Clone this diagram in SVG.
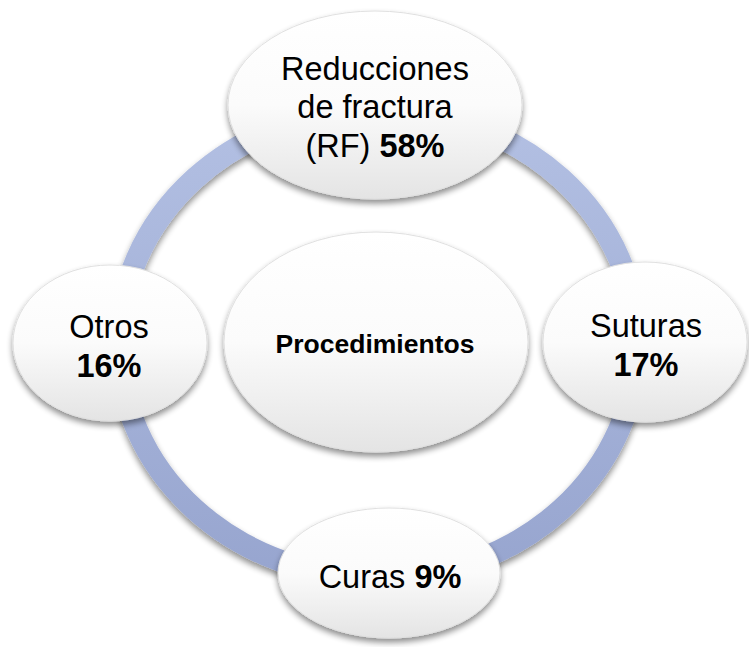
<svg xmlns="http://www.w3.org/2000/svg" width="749" height="647" viewBox="0 0 749 647">
  <defs>
    <linearGradient id="fillG" x1="0" y1="0" x2="0" y2="1">
      <stop offset="0" stop-color="#ffffff"/>
      <stop offset="0.5" stop-color="#fbfbfb"/>
      <stop offset="1" stop-color="#e4e4e4"/>
    </linearGradient>
    <linearGradient id="ringG" x1="0" y1="0" x2="0" y2="1">
      <stop offset="0" stop-color="#b3c0e3"/>
      <stop offset="1" stop-color="#97a5cf"/>
    </linearGradient>
    <filter id="sh" x="-20%" y="-20%" width="140%" height="150%">
      <feGaussianBlur in="SourceAlpha" stdDeviation="3"/>
      <feOffset dx="0" dy="4" result="b"/>
      <feComponentTransfer><feFuncA type="linear" slope="0.45"/></feComponentTransfer>
      <feMerge><feMergeNode/><feMergeNode in="SourceGraphic"/></feMerge>
    </filter>
  </defs>
  <style>
    .node { fill: url(#fillG); stroke: #e0e0e0; stroke-width: 1; filter: url(#sh); }
    .t { font-family: "Liberation Sans", Arial, sans-serif; fill: #000; text-anchor: middle; }
    .b { font-weight: bold; }
  </style>
  <rect width="749" height="647" fill="#ffffff"/>
  <g id="connectors">
    <ellipse cx="378" cy="344" rx="259" ry="234" fill="none" stroke="url(#ringG)" stroke-width="22" filter="url(#sh)"/>
  </g>
  <g id="node-center">
    <ellipse class="node" cx="376" cy="342" rx="152" ry="110"/>
    <text class="t b" x="375" y="353" font-size="26.5">Procedimientos</text>
  </g>
  <g id="node-rf">
    <ellipse class="node" cx="375" cy="105" rx="147" ry="94"/>
    <text class="t" x="375" y="80" font-size="32.5">Reducciones</text>
    <text class="t" x="375" y="118" font-size="32.5">de fractura</text>
    <text class="t" x="375" y="157" font-size="32.5">(RF) <tspan class="b">58%</tspan></text>
  </g>
  <g id="node-otros">
    <ellipse class="node" cx="110" cy="343" rx="97" ry="78"/>
    <text class="t" x="109" y="338" font-size="32.5">Otros</text>
    <text class="t b" x="109" y="377" font-size="32.5">16%</text>
  </g>
  <g id="node-suturas">
    <ellipse class="node" cx="645" cy="342" rx="102" ry="80"/>
    <text class="t" x="646" y="337" font-size="32.5">Suturas</text>
    <text class="t b" x="646" y="376" font-size="32.5">17%</text>
  </g>
  <g id="node-curas">
    <ellipse class="node" cx="389" cy="573" rx="111" ry="65"/>
    <text class="t" x="390" y="588" font-size="32.5">Curas <tspan class="b">9%</tspan></text>
  </g>
</svg>
